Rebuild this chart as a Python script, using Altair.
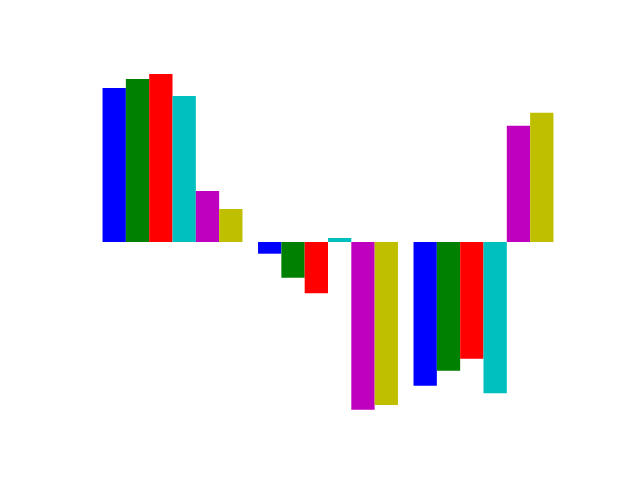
import altair as alt
import pandas as pd

groups = ["A", "B", "C"]
series = ["s1", "s2", "s3", "s4", "s5", "s6"]
colors = ["#0000ff", "#008000", "#ff0000", "#00bfbf", "#bf00bf", "#bfbf00"]
vals_A = [154, 163, 168, 146, 51, 33]
vals_B = [-11.7, -35.7, -51.3, 4, -167.7, -163]
vals_C = [-143.7, -128.7, -116.7, -151.3, 116.3, 129.3]

rows = []
for g, vals in zip(groups, [vals_A, vals_B, vals_C]):
    for s, v in zip(series, vals):
        rows.append({"group": g, "series": s, "value": v})
df = pd.DataFrame(rows)

chart = alt.Chart(df).mark_bar().encode(
    x=alt.X("group:N", axis=None, sort=groups,
            scale=alt.Scale(paddingInner=0.1, paddingOuter=0.145)),
    xOffset=alt.XOffset("series:N", sort=series,
                        scale=alt.Scale(paddingInner=0, paddingOuter=0)),
    y=alt.Y("value:Q", axis=None,
            scale=alt.Scale(domain=[-185, 184], nice=False, zero=False)),
    color=alt.Color("series:N", legend=None,
                    scale=alt.Scale(domain=series, range=colors)),
).properties(
    width=496, height=369,
    background="white",
    autosize=alt.AutoSizeParams(type="none"),
    padding={"left": 80, "top": 58, "right": 64, "bottom": 53},
).configure_view(stroke="transparent", strokeWidth=0)

chart.save("out.html", embed_options={"renderer": "svg", "actions": False})
